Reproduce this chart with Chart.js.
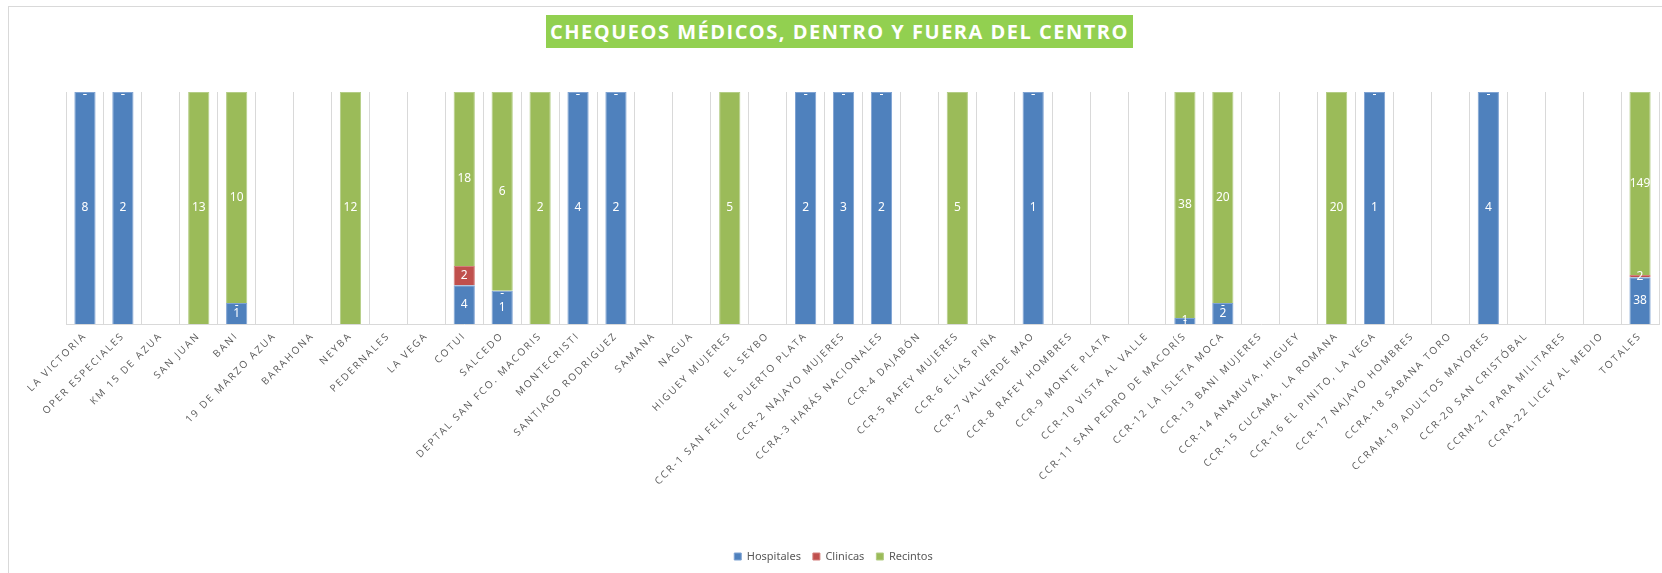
<!DOCTYPE html>
<html lang="es">
<head>
  <meta charset="UTF-8">
  <title>Chequeos médicos, dentro y fuera del centro</title>
  <style>
    * { margin: 0; padding: 0; box-sizing: border-box; }
    html, body { width: 1662px; height: 573px; overflow: hidden; background: #ffffff; }
    .frame {
      position: absolute;
      left: 8px; top: 6px; right: -6px; bottom: -6px;
      border: 1px solid #d9d9d9;
    }
    .title {
      position: absolute;
      left: 546px; top: 15px;
      width: 587px; height: 33px;
      background: #92d050;
      color: #ffffff;
      font: bold 20px "Open Sans", sans-serif;
      letter-spacing: 1.5px;
      line-height: 33px;
      text-align: center;
      white-space: nowrap;
    }
    canvas { position: absolute; left: 0; top: 0; }
  </style>
  <script src="https://cdn.jsdelivr.net/npm/chart.js@4.4.1/dist/chart.umd.min.js"></script>
</head>
<body>
  <div class="frame"></div>
  <canvas id="chequeos" width="1662" height="573"></canvas>
  <div class="title">CHEQUEOS MÉDICOS, DENTRO Y FUERA DEL CENTRO</div>

  <script>
    const centros = [
      'LA VICTORIA', 'OPER ESPECIALES', 'KM 15 DE AZUA', 'SAN JUAN', 'BANI',
      '19 DE MARZO AZUA', 'BARAHONA', 'NEYBA', 'PEDERNALES', 'LA VEGA',
      'COTUI', 'SALCEDO', 'DEPTAL SAN FCO. MACORIS', 'MONTECRISTI', 'SANTIAGO RODRIGUEZ',
      'SAMANA', 'NAGUA', 'HIGUEY MUJERES', 'EL SEYBO', 'CCR-1 SAN FELIPE PUERTO PLATA',
      'CCR-2 NAJAYO MUJERES', 'CCRA-3 HARÁS NACIONALES', 'CCR-4 DAJABÓN', 'CCR-5 RAFEY MUJERES', 'CCR-6 ELÍAS PIÑA',
      'CCR-7 VALVERDE MAO', 'CCR-8 RAFEY HOMBRES', 'CCR-9 MONTE PLATA', 'CCR-10 VISTA AL VALLE', 'CCR-11 SAN PEDRO DE MACORÍS',
      'CCR-12 LA ISLETA MOCA', 'CCR-13 BANI MUJERES', 'CCR-14 ANAMUYA, HIGUEY', 'CCR-15 CUCAMA, LA ROMANA', 'CCR-16 EL PINITO, LA VEGA',
      'CCR-17 NAJAYO HOMBRES', 'CCRA-18 SABANA TORO', 'CCRAM-19 ADULTOS MAYORES', 'CCR-20 SAN CRISTÓBAL', 'CCRM-21 PARA MILITARES',
      'CCRA-22 LICEY AL MEDIO', 'TOTALES'
    ];

    // null = celda vacia, 0 = se muestra "-"
    const hospitales = [
      8, 2, null, null, 1, null, null, null, null, null,
      4, 1, null, 4, 2, null, null, null, null, 2,
      3, 2, null, null, null, 1, null, null, null, 1,
      2, null, null, null, 1, null, null, 4, null, null,
      null, 38
    ];
    const clinicas = [
      0, 0, null, null, 0, null, null, null, null, null,
      2, 0, null, 0, 0, null, null, null, null, 0,
      0, 0, null, null, null, 0, null, null, null, 0,
      0, null, null, null, 0, null, null, 0, null, null,
      null, 2
    ];
    const recintos = [
      0, 0, null, 13, 10, null, null, 12, null, null,
      18, 6, 2, 0, 0, null, null, 5, null, 0,
      0, 0, null, 5, null, 0, null, null, null, 38,
      20, null, null, 20, 0, null, null, 0, null, null,
      null, 149
    ];

    const series = [hospitales, clinicas, recintos];

    // 100% apilado
    function toPercent(arr, i) {
      const total = series.reduce((s, a) => s + (a[i] || 0), 0);
      if (arr[i] === null) return null;
      return total ? arr[i] / total * 100 : 0;
    }
    const pct = arr => arr.map((v, i) => toPercent(arr, i));

    const valueLabels = {
      id: 'valueLabels',
      afterDatasetsDraw(chart) {
        const ctx = chart.ctx;
        ctx.save();
        ctx.letterSpacing = '0px';
        ctx.font = '12px "Noto Sans", sans-serif';
        ctx.fillStyle = '#ffffff';
        ctx.textAlign = 'center';
        ctx.textBaseline = 'middle';
        chart.data.datasets.forEach((ds, di) => {
          const src = series[di];
          chart.getDatasetMeta(di).data.forEach((bar, i) => {
            const v = src[i];
            if (v === null) return;
            const p = bar.getProps(['x', 'y', 'base'], true);
            if (v === 0) {
              ctx.fillText('-', p.x, p.y + 3);
            } else {
              ctx.fillText(String(v), p.x, (p.y + p.base) / 2);
            }
          });
        });
        ctx.restore();
      }
    };

    // espaciado de letras solo para las etiquetas del eje x (se dibujan despues de las barras)
    const tickSpacing = {
      id: 'tickSpacing',
      beforeDatasetsDraw(chart) { chart.ctx.letterSpacing = '1.9px'; },
      afterDraw(chart) { chart.ctx.letterSpacing = '0px'; }
    };

    new Chart(document.getElementById('chequeos'), {
      type: 'bar',
      data: {
        labels: centros,
        datasets: [
          { label: 'Hospitales', data: pct(hospitales), backgroundColor: '#4f81bd', borderColor: '#7fa3d3', borderWidth: 1 },
          { label: 'Clinicas', data: pct(clinicas), backgroundColor: '#c0504d', borderColor: '#d47f7c', borderWidth: 1 },
          { label: 'Recintos', data: pct(recintos), backgroundColor: '#9bbb59', borderColor: '#b4cd86', borderWidth: 1 }
        ]
      },
      options: {
        responsive: false,
        animation: false,
        devicePixelRatio: 1,
        layout: { padding: { top: 92, left: 8, right: 3, bottom: 1 } },
        datasets: { bar: { categoryPercentage: 1, barPercentage: 0.56 } },
        scales: {
          x: {
            stacked: true,
            grid: { color: '#d9d9d9', drawTicks: false },
            border: { color: '#d9d9d9' },
            ticks: {
              autoSkip: false,
              minRotation: 45,
              maxRotation: 45,
              padding: 6,
              z: 1,
              color: '#595959',
              font: { family: '"Open Sans", sans-serif', size: 10 }
            },
            afterFit(s) { s.height = 215; }
          },
          y: {
            stacked: true,
            min: 0,
            max: 100,
            grid: { display: false },
            border: { display: false },
            ticks: { display: false },
            afterFit(s) { s.width = 58; }
          }
        },
        plugins: {
          legend: {
            position: 'bottom',
            labels: {
              boxWidth: 7,
              boxHeight: 7,
              padding: 12,
              color: '#595959',
              font: { family: '"Noto Sans", sans-serif', size: 11 }
            }
          },
          tooltip: { enabled: false }
        }
      },
      plugins: [tickSpacing, valueLabels]
    });
  </script>
</body>
</html>
